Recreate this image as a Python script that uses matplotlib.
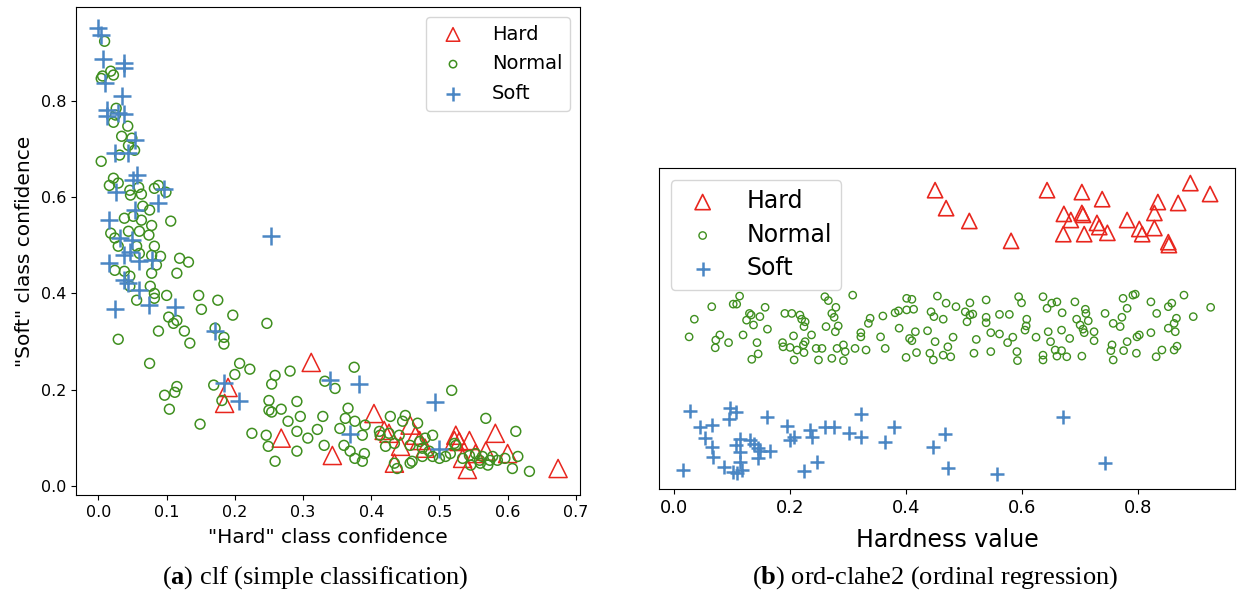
import matplotlib
matplotlib.use('Agg')
import matplotlib.pyplot as plt
import numpy as np

plt.rcParams['mathtext.fontset'] = 'custom'
plt.rcParams['mathtext.rm'] = 'Liberation Serif'
plt.rcParams['mathtext.bf'] = 'Liberation Serif:bold'

red = '#e8261e'
green = '#3f8f1f'
blue = '#4a86c4'

# ---- (a) clf: hard confidence vs soft confidence ----
clf_hard_x = [0.312, 0.190, 0.185, 0.268, 0.343, 0.404, 0.419, 0.426, 0.457, 0.443,
              0.465, 0.471, 0.434, 0.479, 0.524, 0.522, 0.529, 0.544, 0.541, 0.553,
              0.568, 0.582, 0.600, 0.674, 0.534]
clf_hard_y = [0.257, 0.205, 0.172, 0.100, 0.064, 0.151, 0.116, 0.110, 0.127, 0.083,
              0.106, 0.095, 0.048, 0.079, 0.106, 0.095, 0.093, 0.095, 0.035, 0.068,
              0.073, 0.110, 0.068, 0.037, 0.058]

clf_soft_x = [0.000, 0.004, 0.007, 0.037, 0.037, 0.009, 0.035, 0.013, 0.013, 0.029,
              0.037, 0.054, 0.024, 0.043, 0.057, 0.051, 0.026, 0.096, 0.088, 0.053,
              0.016, 0.253, 0.031, 0.049, 0.015, 0.037, 0.046, 0.060, 0.078, 0.038,
              0.044, 0.060, 0.074, 0.024, 0.112, 0.171, 0.184, 0.206, 0.340, 0.382,
              0.494, 0.369, 0.500]
clf_soft_y = [0.950, 0.936, 0.886, 0.878, 0.867, 0.836, 0.809, 0.780, 0.768, 0.774,
              0.772, 0.718, 0.691, 0.691, 0.645, 0.635, 0.610, 0.616, 0.587, 0.573,
              0.552, 0.519, 0.515, 0.510, 0.463, 0.479, 0.485, 0.467, 0.469, 0.427,
              0.421, 0.407, 0.376, 0.367, 0.371, 0.322, 0.214, 0.176, 0.220, 0.212,
              0.174, 0.108, 0.077]

clf_normal_x = [0.009, 0.006, 0.018, 0.022, 0.004, 0.026, 0.022, 0.025, 0.043, 0.034,
                0.044, 0.053, 0.049, 0.004, 0.031, 0.022, 0.016, 0.029, 0.046, 0.059,
                0.063, 0.047, 0.082, 0.088, 0.099, 0.065, 0.075, 0.051, 0.038, 0.063,
                0.078, 0.106, 0.018, 0.024, 0.044, 0.060, 0.074, 0.029, 0.056, 0.082,
                0.024, 0.038, 0.046, 0.060, 0.078, 0.091, 0.085, 0.078, 0.119, 0.132,
                0.115, 0.046, 0.056, 0.076, 0.082, 0.082, 0.100, 0.147, 0.151, 0.175,
                0.197, 0.103, 0.110, 0.115, 0.126, 0.134, 0.088, 0.029, 0.075, 0.171,
                0.184, 0.184, 0.247, 0.207, 0.222, 0.200, 0.169, 0.115, 0.112, 0.097,
                0.104, 0.149, 0.181, 0.225, 0.246, 0.249, 0.259, 0.254, 0.281, 0.259,
                0.250, 0.250, 0.254, 0.268, 0.291, 0.278, 0.296, 0.291, 0.307, 0.321,
                0.329, 0.291, 0.331, 0.332, 0.375, 0.347, 0.518, 0.366, 0.362, 0.376,
                0.354, 0.391, 0.387, 0.360, 0.369, 0.376, 0.390, 0.387, 0.428, 0.446,
                0.450, 0.468, 0.412, 0.413, 0.426, 0.441, 0.421, 0.434, 0.457, 0.471,
                0.479, 0.490, 0.475, 0.485, 0.490, 0.475, 0.460, 0.457, 0.434, 0.438,
                0.500, 0.509, 0.516, 0.522, 0.524, 0.534, 0.544, 0.553, 0.559, 0.568,
                0.560, 0.571, 0.578, 0.585, 0.596, 0.615, 0.607, 0.632, 0.612, 0.563,
                0.574, 0.546]
clf_normal_y = [0.923, 0.851, 0.861, 0.853, 0.846, 0.784, 0.755, 0.770, 0.747, 0.726,
                0.707, 0.697, 0.722, 0.674, 0.687, 0.639, 0.624, 0.629, 0.614, 0.620,
                0.606, 0.604, 0.618, 0.624, 0.610, 0.581, 0.573, 0.560, 0.556, 0.552,
                0.541, 0.550, 0.525, 0.515, 0.529, 0.529, 0.521, 0.498, 0.498, 0.498,
                0.448, 0.446, 0.436, 0.483, 0.479, 0.477, 0.459, 0.442, 0.473, 0.465,
                0.442, 0.415, 0.386, 0.415, 0.400, 0.390, 0.396, 0.396, 0.367, 0.386,
                0.355, 0.351, 0.338, 0.344, 0.322, 0.297, 0.322, 0.305, 0.255, 0.328,
                0.309, 0.295, 0.338, 0.255, 0.243, 0.232, 0.210, 0.207, 0.195, 0.189,
                0.160, 0.129, 0.178, 0.110, 0.106, 0.083, 0.052, 0.212, 0.239, 0.230,
                0.178, 0.158, 0.154, 0.160, 0.176, 0.135, 0.145, 0.114, 0.100, 0.118,
                0.145, 0.073, 0.085, 0.218, 0.247, 0.203, 0.199, 0.162, 0.141, 0.135,
                0.120, 0.127, 0.106, 0.085, 0.073, 0.058, 0.068, 0.052, 0.145, 0.135,
                0.147, 0.131, 0.114, 0.106, 0.110, 0.106, 0.083, 0.089, 0.085, 0.093,
                0.100, 0.106, 0.079, 0.073, 0.062, 0.062, 0.052, 0.048, 0.048, 0.037,
                0.058, 0.062, 0.068, 0.089, 0.085, 0.058, 0.064, 0.068, 0.054, 0.141,
                0.048, 0.044, 0.062, 0.054, 0.058, 0.062, 0.037, 0.031, 0.114, 0.062,
                0.054, 0.044]

# ---- (b) ord-clahe2: hardness value, vertical jitter per class ----
ord_hard_x = [0.450, 0.469, 0.509, 0.581, 0.643, 0.703, 0.738, 0.672, 0.684, 0.703,
              0.705, 0.671, 0.707, 0.729, 0.733, 0.747, 0.781, 0.802, 0.807, 0.828,
              0.834, 0.828, 0.869, 0.890, 0.924, 0.852, 0.853]
ord_hard_y = [0.931, 0.875, 0.835, 0.773, 0.931, 0.925, 0.903, 0.857, 0.838, 0.860,
              0.854, 0.794, 0.794, 0.829, 0.816, 0.798, 0.838, 0.810, 0.794, 0.813,
              0.894, 0.860, 0.891, 0.953, 0.919, 0.769, 0.760]

ord_normal_x = [0.113, 0.102, 0.108, 0.065, 0.035, 0.026, 0.079, 0.072, 0.071, 0.094,
                0.119, 0.130, 0.133, 0.148, 0.157, 0.125, 0.137, 0.161, 0.143, 0.145,
                0.134, 0.191, 0.203, 0.217, 0.220, 0.226, 0.224, 0.206, 0.187, 0.188,
                0.200, 0.212, 0.223, 0.226, 0.224, 0.207, 0.237, 0.245, 0.255, 0.249,
                0.260, 0.266, 0.279, 0.272, 0.276, 0.262, 0.283, 0.278, 0.272, 0.292,
                0.281, 0.292, 0.295, 0.312, 0.331, 0.322, 0.322, 0.335, 0.338, 0.360,
                0.356, 0.364, 0.381, 0.387, 0.388, 0.308, 0.401, 0.410, 0.413, 0.401,
                0.406, 0.416, 0.418, 0.400, 0.437, 0.443, 0.448, 0.454, 0.469, 0.450,
                0.441, 0.447, 0.464, 0.472, 0.410, 0.464, 0.477, 0.481, 0.486, 0.502,
                0.505, 0.510, 0.515, 0.510, 0.521, 0.517, 0.538, 0.538, 0.538, 0.546,
                0.561, 0.546, 0.561, 0.578, 0.575, 0.584, 0.591, 0.592, 0.594, 0.599,
                0.608, 0.607, 0.605, 0.624, 0.636, 0.643, 0.651, 0.660, 0.645, 0.649,
                0.636, 0.636, 0.657, 0.668, 0.677, 0.660, 0.668, 0.669, 0.682, 0.691,
                0.694, 0.700, 0.705, 0.709, 0.710, 0.714, 0.707, 0.724, 0.724, 0.703,
                0.743, 0.757, 0.755, 0.753, 0.757, 0.769, 0.772, 0.775, 0.774, 0.781,
                0.791, 0.795, 0.781, 0.798, 0.802, 0.797, 0.822, 0.822, 0.832, 0.831,
                0.841, 0.852, 0.858, 0.852, 0.866, 0.862, 0.864, 0.867, 0.862, 0.879,
                0.895, 0.925]
ord_normal_y = [0.601, 0.576, 0.576, 0.568, 0.529, 0.474, 0.480, 0.464, 0.440, 0.456,
                0.480, 0.547, 0.542, 0.537, 0.566, 0.526, 0.511, 0.498, 0.456, 0.421,
                0.404, 0.547, 0.547, 0.542, 0.529, 0.521, 0.506, 0.477, 0.456, 0.443,
                0.441, 0.433, 0.449, 0.459, 0.425, 0.402, 0.480, 0.438, 0.438, 0.402,
                0.599, 0.587, 0.566, 0.547, 0.535, 0.506, 0.508, 0.490, 0.407, 0.400,
                0.438, 0.449, 0.428, 0.438, 0.433, 0.487, 0.474, 0.516, 0.532, 0.539,
                0.474, 0.438, 0.549, 0.555, 0.501, 0.604, 0.594, 0.591, 0.560, 0.558,
                0.469, 0.490, 0.425, 0.410, 0.493, 0.552, 0.537, 0.601, 0.579, 0.459,
                0.423, 0.402, 0.417, 0.443, 0.462, 0.529, 0.412, 0.473, 0.568, 0.552,
                0.521, 0.580, 0.545, 0.542, 0.466, 0.423, 0.589, 0.535, 0.518, 0.487,
                0.483, 0.428, 0.544, 0.544, 0.456, 0.473, 0.428, 0.400, 0.599, 0.580,
                0.529, 0.508, 0.495, 0.473, 0.599, 0.563, 0.579, 0.583, 0.490, 0.459,
                0.417, 0.402, 0.433, 0.431, 0.412, 0.414, 0.495, 0.549, 0.469, 0.583,
                0.529, 0.511, 0.498, 0.560, 0.547, 0.524, 0.487, 0.490, 0.462, 0.414,
                0.547, 0.516, 0.449, 0.431, 0.402, 0.506, 0.535, 0.431, 0.594, 0.563,
                0.604, 0.607, 0.459, 0.474, 0.480, 0.423, 0.583, 0.487, 0.547, 0.412,
                0.433, 0.568, 0.579, 0.501, 0.532, 0.516, 0.490, 0.445, 0.433, 0.604,
                0.537, 0.566]

ord_soft_x = [0.028, 0.097, 0.107, 0.095, 0.045, 0.065, 0.053, 0.065, 0.068, 0.016,
              0.086, 0.107, 0.114, 0.131, 0.137, 0.144, 0.148, 0.166, 0.145, 0.114,
              0.113, 0.117, 0.108, 0.101, 0.160, 0.195, 0.206, 0.200, 0.234, 0.237,
              0.224, 0.247, 0.260, 0.276, 0.302, 0.322, 0.322, 0.364, 0.380, 0.446,
              0.467, 0.473, 0.556, 0.670, 0.743]
ord_soft_y = [0.244, 0.251, 0.241, 0.217, 0.194, 0.199, 0.158, 0.132, 0.101, 0.059,
              0.069, 0.137, 0.155, 0.153, 0.140, 0.127, 0.119, 0.119, 0.096, 0.116,
              0.085, 0.059, 0.051, 0.054, 0.225, 0.197, 0.163, 0.153, 0.184, 0.163,
              0.057, 0.085, 0.194, 0.194, 0.175, 0.234, 0.163, 0.147, 0.194, 0.132,
              0.171, 0.064, 0.046, 0.225, 0.080]

fig = plt.figure(figsize=(12.37, 6.02), dpi=100)

# (a)
ax1 = fig.add_axes([0.0614, 0.1777, 0.4074, 0.8106])
ax1.scatter(clf_hard_x, clf_hard_y, s=170, marker='^', facecolors='none',
            edgecolors=red, linewidths=1.1, label='Hard')
ax1.scatter(clf_normal_x, clf_normal_y, s=50, marker='o', facecolors='none',
            edgecolors=green, linewidths=1.1, label='Normal')
ax1.scatter(clf_soft_x, clf_soft_y, s=170, marker='+', color=blue,
            linewidths=1.8, label='Soft')
ax1.set_xlim(-0.033, 0.706)
ax1.set_ylim(-0.018, 0.994)
ax1.set_xticks(np.arange(0, 0.71, 0.1))
ax1.set_yticks(np.arange(0, 0.81, 0.2))
ax1.tick_params(labelsize=11.5)
ax1.set_xlabel('"Hard" class confidence', fontsize=14.5, labelpad=6)
ax1.set_ylabel('"Soft" class confidence', fontsize=14.5, labelpad=5)
ax1.legend(loc='upper right', fontsize=14, markerscale=0.75, handlelength=2.0,
           handletextpad=1.0, borderpad=0.4, labelspacing=0.55,
           bbox_to_anchor=(1.0, 1.0))

# (b)
ax2 = fig.add_axes([0.5327, 0.1877, 0.4657, 0.5332])
ax2.scatter(ord_hard_x, ord_hard_y, s=120, marker='^', facecolors='none',
            edgecolors=red, linewidths=1.2, label='Hard')
ax2.scatter(ord_normal_x, ord_normal_y, s=28, marker='o', facecolors='none',
            edgecolors=green, linewidths=1.0, label='Normal')
ax2.scatter(ord_soft_x, ord_soft_y, s=110, marker='+', color=blue,
            linewidths=1.8, label='Soft')
ax2.set_xlim(-0.026, 0.967)
ax2.set_ylim(0, 1)
ax2.set_yticks([])
ax2.set_xticks(np.arange(0, 0.81, 0.2))
ax2.tick_params(labelsize=13)
ax2.set_xlabel('Hardness value', fontsize=17, labelpad=8)
ax2.legend(loc='upper left', fontsize=17, handlelength=1.9, handletextpad=0.9,
           borderpad=0.4, labelspacing=0.4, bbox_to_anchor=(0.0, 1.0))

fig.text(0.2547, 0.04, r'($\mathbf{a}$) clf (simple classification)',
         ha='center', va='center', fontsize=19, family='Liberation Serif')
fig.text(0.7563, 0.04, r'($\mathbf{b}$) ord-clahe2 (ordinal regression)',
         ha='center', va='center', fontsize=19, family='Liberation Serif')

fig.savefig('out.png', dpi=100)
